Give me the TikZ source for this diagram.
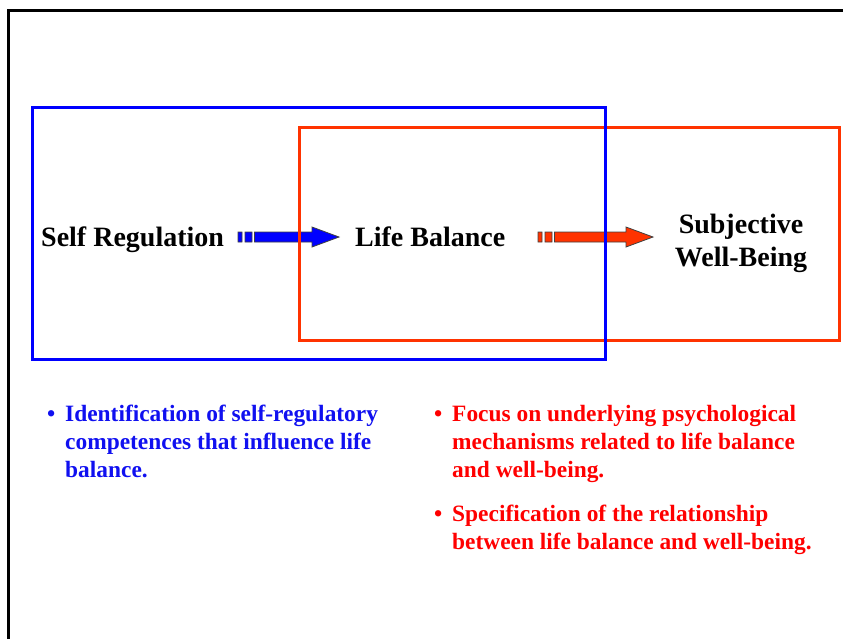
\documentclass[tikz,border=0pt]{standalone}
\usepackage{fontspec}
\setmainfont{Liberation Serif}
\usetikzlibrary{calc}
\definecolor{boxblue}{RGB}{0,0,255}
\definecolor{boxred}{RGB}{255,51,0}
\definecolor{txtblue}{RGB}{16,16,240}
\definecolor{txtred}{RGB}{255,0,0}

% block arrow with two small dashes in front of its shaft
\newcommand\blockarrow[3]{%
  \path[arrowshape, fill=#3] let \p1=(#1), \p2=(#2) in
    (\x1,\y1-5) rectangle (\x1+4,\y1+5)
    (\x1+7,\y1-5) rectangle (\x1+14,\y1+5)
    (\x1+16.5,\y1-5) -- (\x2-27,\y1-5) -- (\x2-27,\y1-10) -- (\x2,\y1)
    -- (\x2-27,\y1+10) -- (\x2-27,\y1+5) -- (\x1+16.5,\y1+5) -- cycle;}

\begin{document}
\begin{tikzpicture}[x=1pt,y=-1pt,
  concept/.style={font=\fontsize{28}{33}\selectfont\bfseries, inner sep=0pt},
  point/.style={font=\fontsize{23.4}{28}\selectfont\bfseries, inner sep=0pt,
    anchor=base west, align=left},
  arrowshape/.style={draw=black!75, line width=0.8pt},
  frame/.style={line width=3pt}]
\useasboundingbox (0,0) rectangle (843,638);

% concepts
\node[concept, anchor=base west] (sr) at (41,246) {Self Regulation};
\node[concept, anchor=base west] (lb) at (355,246) {Life Balance};
\node[concept, align=center] (wb) at (741,243.5) {Subjective\\Well-Being};

% connecting block arrows
\coordinate (a1s) at (238,237);
\coordinate (a1e) at (339,237);
\coordinate (a2s) at (538,237);
\coordinate (a2e) at (653,237);
\blockarrow{a1s}{a1e}{boxblue}
\blockarrow{a2s}{a2e}{boxred}

% overlapping groupings
\draw[frame, boxred] (299,127.5) rectangle (839,340);
\draw[frame, boxblue] (32,107.5) rectangle (605,359);

% outer frame
\draw[line width=3pt] (8,645) -- (8,10) -- (850,10);

% bullet points (a multi-line node sits on the baseline of its last line)
\node[point, txtblue] (b1) at (47,421.5) {•};
\node[point, txtblue] (t1) at (65,477)
  {Identification of self-regulatory\\competences that influence life\\balance.};
\node[point, txtred] (b2) at (434,421.5) {•};
\node[point, txtred] (t2) at (452,477)
  {Focus on underlying psychological\\mechanisms related to life balance\\and well-being.};
\node[point, txtred] (b3) at (434,521.5) {•};
\node[point, txtred] (t3) at (452,549)
  {Specification of the relationship\\between life balance and well-being.};
\end{tikzpicture}
\end{document}
